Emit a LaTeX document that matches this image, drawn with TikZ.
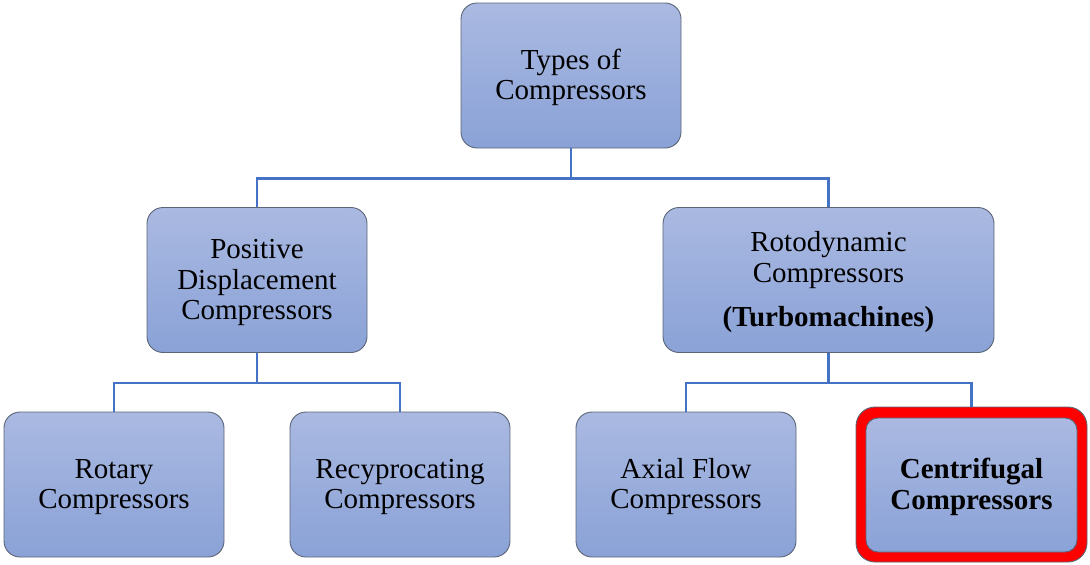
\documentclass[tikz,border=0pt]{standalone}
\usepackage{fontspec}
\setmainfont{Liberation Serif}
\definecolor{boxtop}{HTML}{AAB9E1}
\definecolor{boxbot}{HTML}{8AA2D7}
\definecolor{boxedge}{HTML}{5B6577}
\definecolor{connblue}{HTML}{4472C4}
\definecolor{hlred}{HTML}{FF0000}
\newcommand{\boxtext}[1]{\raisebox{0pt}[\dimexpr\height+6pt\relax][\depth]{\begin{tabular}{@{}c@{}}#1\end{tabular}}}
\begin{document}
\begin{tikzpicture}[x=1pt,y=-1pt,
  box/.style={rectangle, rounded corners=16pt, draw=boxedge, line width=0.9pt,
    top color=boxtop, bottom color=boxbot, align=center,
    font=\fontsize{29}{30.5}\selectfont, inner sep=0pt,
    minimum width=220pt, minimum height=145pt},
  frame/.style={rectangle, rounded corners=19pt, draw=boxedge, line width=0.9pt,
    fill=hlred, inner sep=0pt, minimum width=231pt, minimum height=155pt},
  conn/.style={draw=connblue, line width=2.7pt}]
\useasboundingbox (0,0) rectangle (1090,565);
% boxes
\node[box] (top) at (571,75.5) {\boxtext{Types of\\Compressors}};
\node[box] (pd) at (257,280) {\boxtext{Positive\\Displacement\\Compressors}};
\node[box, minimum width=331pt] (rd) at (828.5,280) {\boxtext{Rotodynamic\\Compressors\\[14pt]\textbf{(Turbomachines)}}};
\node[box] (ro) at (114,484.5) {\boxtext{Rotary\\Compressors}};
\node[box] (re) at (400,484.5) {\boxtext{Recyprocating\\Compressors}};
\node[box] (ax) at (686,484.5) {\boxtext{Axial Flow\\Compressors}};
\node[frame] (cff) at (971.5,484.5) {};
\node[box, minimum width=211pt, minimum height=134pt, rounded corners=12pt] (cf) at (971.5,485) {\boxtext{\textbf{Centrifugal}\\\textbf{Compressors}}};
% connectors
\draw[conn] (top.south) -- ++(0,30) -| (pd.north);
\draw[conn] (top.south) -- ++(0,30) -| (rd.north);
\draw[conn] (pd.south) -- ++(0,30) -| (ro.north);
\draw[conn] (pd.south) -- ++(0,30) -| (re.north);
\draw[conn] (rd.south) -- ++(0,30) -| (ax.north);
\draw[conn] (rd.south) -- ++(0,30) -| (cff.north);
\end{tikzpicture}
\end{document}
